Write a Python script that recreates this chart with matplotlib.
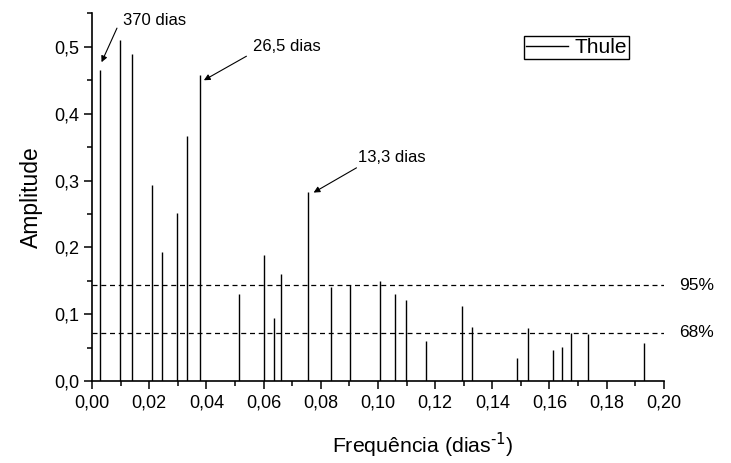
import matplotlib.pyplot as plt
from matplotlib.lines import Line2D
from matplotlib.ticker import MultipleLocator, FuncFormatter

plt.rcParams['font.family'] = ['Liberation Sans', 'DejaVu Sans']

# dados: frequencia (dias^-1) e amplitude
freq = [0.0027, 0.0097, 0.0141, 0.0210, 0.0246, 0.0296, 0.0331, 0.0378,
        0.0515, 0.0603, 0.0637, 0.0661, 0.0755, 0.0836, 0.0902, 0.1006,
        0.1061, 0.1097, 0.1168, 0.1294, 0.1329, 0.1485, 0.1525, 0.1611,
        0.1644, 0.1674, 0.1735, 0.1930]
amp = [0.466, 0.510, 0.490, 0.293, 0.193, 0.251, 0.366, 0.458,
       0.130, 0.188, 0.095, 0.160, 0.283, 0.140, 0.144, 0.150,
       0.130, 0.121, 0.060, 0.113, 0.081, 0.034, 0.079, 0.046,
       0.051, 0.072, 0.070, 0.057]

nivel_95 = 0.143
nivel_68 = 0.072

# anotacoes: texto, ponta da seta, inicio da seta, posicao do texto
picos = ["370 dias", "26,5 dias", "13,3 dias"]
seta_ponta = [(0.0033, 0.477), (0.0391, 0.450), (0.0775, 0.282)]
seta_cauda = [(0.0087, 0.528), (0.0540, 0.486), (0.0925, 0.319)]
texto_pos = [(0.0107, 0.540), (0.0562, 0.501), (0.0929, 0.335)]

fig = plt.figure(figsize=(7.31, 4.63), dpi=100)
ax = fig.add_axes([0.126, 0.177, 0.782, 0.794])

ax.vlines(freq, 0, amp, colors='black', linewidth=1.0)

ax.hlines([nivel_95, nivel_68], 0, 0.20, colors='black', linestyles=(0, (4, 3)), linewidth=0.9)
ax.text(0.2055, nivel_95, "95%", fontsize=12.5, va='center', ha='left')
ax.text(0.2055, nivel_68, "68%", fontsize=12.5, va='center', ha='left')

# setas e textos
for txt, ponta, cauda, pos in zip(picos, seta_ponta, seta_cauda, texto_pos):
    ax.annotate('', xy=ponta, xytext=cauda,
                arrowprops=dict(arrowstyle='-|>', color='black', lw=0.8,
                                mutation_scale=9, shrinkA=0, shrinkB=0))
    ax.text(pos[0], pos[1], txt, fontsize=12, ha='left', va='center')

ax.set_xlim(0, 0.20)
ax.set_ylim(0, 0.55)
ax.xaxis.set_major_locator(MultipleLocator(0.02))
ax.xaxis.set_minor_locator(MultipleLocator(0.01))
ax.yaxis.set_major_locator(MultipleLocator(0.1))
ax.yaxis.set_minor_locator(MultipleLocator(0.05))
ax.xaxis.set_major_formatter(FuncFormatter(lambda v, p: f"{v:.2f}".replace('.', ',')))
ax.yaxis.set_major_formatter(FuncFormatter(lambda v, p: f"{v:.1f}".replace('.', ',')))
ax.tick_params(which='major', length=6, width=1.1, labelsize=13, direction='out')
ax.tick_params(which='minor', length=3.5, width=1.1, direction='out')

for s in ['top', 'right']:
    ax.spines[s].set_visible(False)
for s in ['left', 'bottom']:
    ax.spines[s].set_linewidth(1.2)

ax.set_ylabel("Amplitude", fontsize=16.5, labelpad=8)
ax.set_xlabel("Frequência (dias$^{\\text{-1}}$)", fontsize=15.3)
ax.xaxis.set_label_coords(0.579, -0.136)

leg = ax.legend([Line2D([], [], color='black', lw=1.0)], ["Thule"],
                loc='upper left', bbox_to_anchor=(0.717, 0.922),
                bbox_transform=fig.transFigure, fontsize=15, fancybox=False,
                framealpha=1, edgecolor='black', borderpad=0.1,
                handlelength=2.0, handletextpad=0.3, borderaxespad=0)
leg.get_frame().set_linewidth(1.0)

fig.savefig("out.png", dpi=100)
